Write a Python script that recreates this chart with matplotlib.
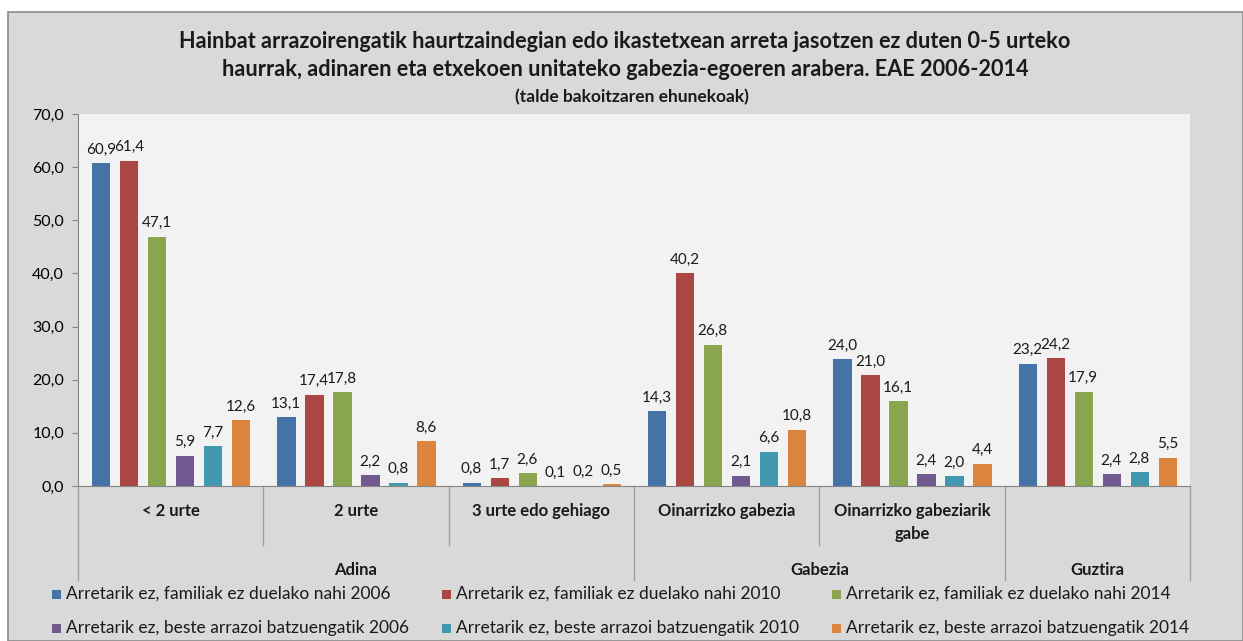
import numpy as np
import matplotlib
matplotlib.use("Agg")
import matplotlib.pyplot as plt
from matplotlib.patches import Rectangle

plt.rcParams["font.family"] = ["Lato", "DejaVu Sans"]

# Datuak
categories = ["< 2 urte", "2 urte", "3 urte edo gehiago",
              "Oinarrizko gabezia", "Oinarrizko gabeziarik\ngabe", ""]
groups = ["Adina", "Gabezia", "Guztira"]
group_spans = [(0, 3), (3, 5), (5, 6)]  # [hasiera, amaiera) kategoria indizeak

series_names = [
    "Arretarik ez, familiak ez duelako nahi 2006",
    "Arretarik ez, familiak ez duelako nahi 2010",
    "Arretarik ez, familiak ez duelako nahi 2014",
    "Arretarik ez, beste arrazoi batzuengatik 2006",
    "Arretarik ez, beste arrazoi batzuengatik 2010",
    "Arretarik ez, beste arrazoi batzuengatik 2014",
]
fam_2006 = [60.9, 13.1, 0.8, 14.3, 24.0, 23.2]
fam_2010 = [61.4, 17.4, 1.7, 40.2, 21.0, 24.2]
fam_2014 = [47.1, 17.8, 2.6, 26.8, 16.1, 17.9]
beste_2006 = [5.9, 2.2, 0.1, 2.1, 2.4, 2.4]
beste_2010 = [7.7, 0.8, 0.2, 6.6, 2.0, 2.8]
beste_2014 = [12.6, 8.6, 0.5, 10.8, 4.4, 5.5]
series = [fam_2006, fam_2010, fam_2014, beste_2006, beste_2010, beste_2014]
colors = ["#4572A7", "#AA4643", "#89A54E", "#71588F", "#4198AF", "#DB843D"]

W, H = 1243, 641
fig = plt.figure(figsize=(W / 100, H / 100), dpi=100, facecolor="white")

# kanpoko panel grisa
fig.patches.append(Rectangle((8 / W, 0), 1 - 8 / W, 1 - 12 / H, transform=fig.transFigure,
                             facecolor="#D9D9D9", edgecolor="#8C8C8C", lw=1.2, zorder=-5))

ax = fig.add_axes([78 / W, 1 - 486 / H, (1190 - 78) / W, (486 - 114) / H])
ax.set_facecolor("#F2F2F2")

x = np.arange(len(categories))
step, bw = 0.151, 0.103
for i, (vals, c) in enumerate(zip(series, colors)):
    pos = x + (i - 2.5) * step
    bars = ax.bar(pos, vals, width=bw, color=c, edgecolor="white", linewidth=0.6, zorder=2)
    for b, v in zip(bars, vals):
        ax.annotate(f"{v:.1f}".replace(".", ","), (b.get_x() + b.get_width() / 2, v),
                    xytext=(0, 4), textcoords="offset points", ha="center", va="bottom",
                    fontsize=11, color="#1a1a1a")

ax.set_xlim(-0.5, len(categories) - 0.5)
ax.set_ylim(0, 70)
ax.set_yticks(np.arange(0, 71, 10))
ax.set_yticklabels([f"{t:.1f}".replace(".", ",") for t in np.arange(0, 71, 10)], fontsize=11.5)
ax.tick_params(axis="y", length=4, color="#868686", pad=6)
ax.set_xticks([])
for s in ["top", "right"]:
    ax.spines[s].set_visible(False)
ax.spines["left"].set_color("#868686")
ax.spines["bottom"].set_color("#868686")

# kategoria eta talde etiketak
tr = ax.get_xaxis_transform()
grp_edges = set()
for g, (a, b) in zip(groups, group_spans):
    grp_edges.update([a - 0.5, b - 0.5])
    ax.text((a + b - 1) / 2, -0.225, g, transform=tr, ha="center", va="center",
            fontsize=12, fontweight="bold", color="#1a1a1a")
for k in range(len(categories) + 1):
    e = k - 0.5
    y1 = -0.253 if e in grp_edges else -0.159
    ax.plot([e, e], [0, y1], transform=tr, color="#A0A0A0", lw=1, clip_on=False)
for k, cat in enumerate(categories):
    ax.text(k, -0.045, cat, transform=tr, ha="center", va="top", fontsize=12,
            fontweight="bold", color="#1a1a1a", linespacing=1.55)

# izenburua
fig.text(625 / W, 1 - 42 / H, "Hainbat arrazoirengatik haurtzaindegian edo ikastetxean arreta jasotzen ez duten 0-5 urteko",
         ha="center", va="center", fontsize=15.6, fontweight="bold", color="#1a1a1a")
fig.text(625 / W, 1 - 70 / H, "haurrak, adinaren eta etxekoen unitateko gabezia-egoeren arabera. EAE 2006-2014",
         ha="center", va="center", fontsize=15.6, fontweight="bold", color="#1a1a1a")
fig.text(632 / W, 1 - 97 / H, "(talde bakoitzaren ehunekoak)",
         ha="center", va="center", fontsize=12.5, fontweight="bold", color="#1a1a1a")

# legenda
leg_x = [52, 442, 832]
leg_y = [594, 628]
for i, (name, c) in enumerate(zip(series_names, colors)):
    px, py = leg_x[i % 3], leg_y[i // 3]
    fig.patches.append(Rectangle((px / W, (H - py - 4.5) / H), 9 / W, 9 / H,
                                 transform=fig.transFigure, facecolor=c, edgecolor="none"))
    fig.text((px + 14) / W, 1 - py / H, name, ha="left", va="center", fontsize=12.5, color="#1a1a1a")

fig.savefig("out.png", dpi=100, facecolor="white")
